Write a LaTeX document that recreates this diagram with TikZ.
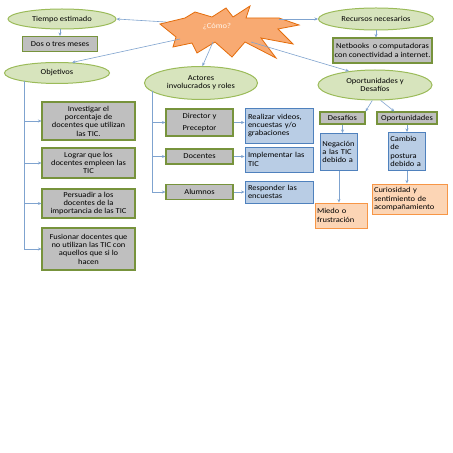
\documentclass[tikz,border=0pt]{standalone}
\usepackage{fontspec}
\setmainfont{Carlito}[FakeStretch=1.12]
\usetikzlibrary{shapes.geometric,arrows.meta,calc}
\definecolor{gfill}{HTML}{D7E4BD}
\definecolor{gline}{HTML}{9BBB59}
\definecolor{grayfill}{HTML}{BFBFBF}
\definecolor{grayline}{HTML}{77933C}
\definecolor{bfill}{HTML}{B9CDE5}
\definecolor{bline}{HTML}{4F81BD}
\definecolor{ofill}{HTML}{FCD5B5}
\definecolor{oline}{HTML}{F79646}
\definecolor{sfill}{HTML}{F8AA72}
\definecolor{sline}{HTML}{E46C0A}
\definecolor{aline}{HTML}{7FA3CF}
\tikzset{
  txt/.style={font=\fontsize{7.6}{8.4}\selectfont, text=black},
  oval/.style={txt, ellipse, draw=gline, fill=gfill, line width=1pt, inner sep=0pt, align=center},
  graybox/.style={txt, rectangle, draw=grayline, fill=grayfill, line width=1.1pt, inner sep=0pt, align=center},
  bluebox/.style={txt, rectangle, draw=bline, fill=bfill, line width=0.9pt, inner sep=2pt, align=left},
  orbox/.style={txt, rectangle, draw=oline, fill=ofill, line width=1pt, inner sep=2pt, align=left},
  conn/.style={draw=aline, line width=0.6pt, -{Stealth[length=3.5pt,width=3pt]}},
  trunk/.style={draw=aline, line width=0.6pt},
}
\begin{document}
\begin{tikzpicture}[x=1bp,y=-1bp]
\useasboundingbox[fill=white] (0,0) rectangle (453,453);
% star
\draw[fill=sfill, draw=sline, line width=0.8pt]
 (160,24) -- (185,18) -- (195,12) -- (212,17) -- (226,8) -- (233,17) -- (250,6) -- (246,18)
 -- (279,18) -- (299,25) -- (278,29) -- (293,44) -- (261,38) -- (276,58) -- (245,42)
 -- (232,57) -- (215,42) -- (197,53) -- (192,43) -- (173,47) -- (176,37) -- cycle;
\node[txt, text=white!92!orange] (star) at (217,27) {¿Cómo?};
\coordinate (sL) at (166,22);
\coordinate (sLB) at (180,39);
\coordinate (sB) at (213,42);
\coordinate (sR) at (279,19);
\coordinate (sRB) at (251,42);

% left column
\node[oval, minimum width=108bp, minimum height=20bp] (tie) at (62,19) {Tiempo estimado};
\node[graybox, minimum width=75bp, minimum height=15bp] (dos) at (60,44) {Dos o tres meses};
\node[oval, minimum width=105bp, minimum height=21bp] (obj) at (57,73) {Objetivos};
\node[graybox, minimum width=93bp, minimum height=38bp] (inv) at (88.5,121) {Investigar el\\porcentaje de\\docentes que utilizan\\las TIC.};
\node[graybox, minimum width=93bp, minimum height=30bp] (log) at (88.5,163) {Lograr que los\\docentes empleen las\\TIC};
\node[graybox, minimum width=93bp, minimum height=29bp] (per) at (88.5,203.5) {Persuadir a los\\docentes de la\\importancia de las TIC};
\node[graybox, minimum width=93bp, minimum height=42bp] (fus) at (88.5,249) {Fusionar docentes que\\no utilizan las TIC con\\aquellos que si lo\\hacen};

% middle column
\node[oval, minimum width=113bp, minimum height=33bp] (act) at (201,83) {Actores\\involucrados y roles};
\node[graybox, minimum width=67bp, minimum height=27bp] (dir) at (199.5,122.5) {Director y\\[3.5pt]Preceptor};
\node[graybox, minimum width=67bp, minimum height=15bp] (doc) at (199.5,156.5) {Docentes};
\node[graybox, minimum width=67bp, minimum height=15bp] (alu) at (199.5,192) {Alumnos};
\node[bluebox, minimum width=68bp, minimum height=35bp, text width=62bp] (rea) at (279,125.5) {Realizar  videos,\\encuestas y/o\\grabaciones};
\node[bluebox, minimum width=68bp, minimum height=25bp, text width=62bp] (imp) at (279,159.5) {Implementar las\\TIC};
\node[bluebox, minimum width=68bp, minimum height=22bp, text width=62bp] (res) at (279,192) {Responder las\\encuestas};

% right column
\node[oval, minimum width=115bp, minimum height=22bp] (rec) at (376,19) {Recursos necesarios};
\node[graybox, minimum width=99bp, minimum height=25bp] (net) at (382.5,50.5) {Netbooks\ \ o computadoras\\con conectividad a internet.};
\node[oval, minimum width=114bp, minimum height=30bp] (oyd) at (375,85) {Oportunidades y\\Desafíos};
\node[graybox, minimum width=45bp, minimum height=12bp] (des) at (342.5,118) {Desafíos};
\node[graybox, minimum width=60bp, minimum height=12bp] (opo) at (407,118) {Oportunidades};
\node[bluebox, minimum width=37bp, minimum height=37bp, text width=33bp, anchor=north west] (neg) at (320,133) {Negación\\a las TIC\\debido a};
\node[bluebox, minimum width=37bp, minimum height=38bp, text width=33bp, anchor=north west] (cam) at (388,132) {Cambio\\de\\postura\\debido a};
\node[orbox, minimum width=52bp, minimum height=25bp, text width=48bp] (mie) at (341,215.5) {Miedo o\\frustración};
\node[orbox, minimum width=75bp, minimum height=30bp, text width=71bp] (cur) at (409.5,199) {Curiosidad y\\sentimiento de\\acompañamiento};

% connectors from star
\draw[conn] (sL) -- (tie.east);
\draw[conn] (sLB) -- (obj.35);
\draw[conn] (sB) -- (act.85);
\draw[conn] (sR) -- (rec.west);
\draw[conn] (sRB) -- (oyd.152);
\draw[conn] (tie.south -| dos.north) -- (dos.north);
\draw[conn] (rec.south) -- (rec.south |- net.north);

% objetivos tree
\coordinate (ot) at (24,81);
\draw[trunk] (ot) -- (ot |- fus.west);
\foreach \n in {inv,log,per,fus} \draw[conn] (ot |- \n.west) -- (\n.west);

% actores tree
\coordinate (at) at (152,91);
\draw[trunk] (at) -- (at |- alu.west);
\foreach \n in {dir,doc,alu} \draw[conn] (at |- \n.west) -- (\n.west);
\draw[conn] (dir.east) -- (dir.east -| rea.west);
\draw[conn] (doc.east) -- (doc.east -| imp.west);
\draw[conn] (alu.east) -- (alu.east -| res.west);

% oportunidades tree
\draw[conn] (oyd.260) -- (des.north east);
\draw[conn] (oyd.290) -- ($(opo.north west)+(18,0)$);
\draw[conn] (des.south) -- (des.south |- neg.north);
\draw[conn] (opo.south) -- (opo.south |- cam.north);
\draw[conn] (neg.south) -- (neg.south |- mie.north);
\draw[conn] (cam.south) -- (cam.south |- cur.north);
\end{tikzpicture}
\end{document}
